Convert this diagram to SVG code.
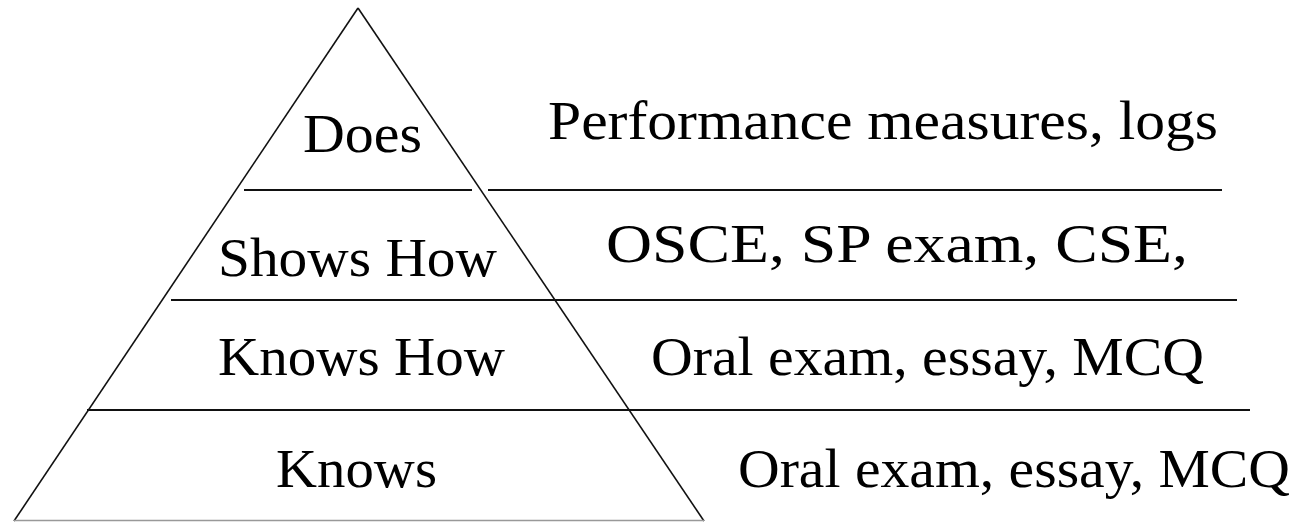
<svg xmlns="http://www.w3.org/2000/svg" width="1299" height="522" viewBox="0 0 1299 522">
<style>
  .t { font-family: "Liberation Serif", "Times New Roman", serif; font-size: 54px; fill: #000; }
  .edge { fill: none; stroke: #111; stroke-width: 1.6; }
  .rule { stroke: #111; stroke-width: 2; }
</style>
<rect width="1299" height="522" fill="#fff"/>
<g id="pyramid">
  <line class="edge" x1="358" y1="8" x2="14" y2="521"/>
  <line class="edge" x1="358" y1="8" x2="704" y2="521"/>
  <line x1="14" y1="520.5" x2="704" y2="520.5" stroke="#999" stroke-width="1.5"/>
</g>
<g id="connectors">
  <line class="rule" x1="244" y1="190" x2="472" y2="190"/>
  <line class="rule" x1="488" y1="190" x2="1222" y2="190"/>
  <line class="rule" x1="171" y1="300" x2="1237" y2="300"/>
  <line class="rule" x1="87" y1="410" x2="1250" y2="410"/>
</g>
<g id="does"><text class="t" x="303" y="152" textLength="119" lengthAdjust="spacingAndGlyphs">Does</text></g>
<g id="shows-how"><text class="t" x="218" y="276" textLength="279" lengthAdjust="spacingAndGlyphs">Shows How</text></g>
<g id="knows-how"><text class="t" x="218" y="375" textLength="287" lengthAdjust="spacingAndGlyphs">Knows How</text></g>
<g id="knows"><text class="t" x="276" y="487" textLength="161" lengthAdjust="spacingAndGlyphs">Knows</text></g>
<g id="does-assess"><text class="t" x="548" y="139" textLength="670" lengthAdjust="spacingAndGlyphs">Performance measures, logs</text></g>
<g id="shows-how-assess"><text class="t" x="606" y="262" textLength="582" lengthAdjust="spacingAndGlyphs">OSCE, SP exam, CSE,</text></g>
<g id="knows-how-assess"><text class="t" x="651" y="375" textLength="553" lengthAdjust="spacingAndGlyphs">Oral exam, essay, MCQ</text></g>
<g id="knows-assess"><text class="t" x="738" y="487" textLength="552" lengthAdjust="spacingAndGlyphs">Oral exam, essay, MCQ</text></g>
</svg>
